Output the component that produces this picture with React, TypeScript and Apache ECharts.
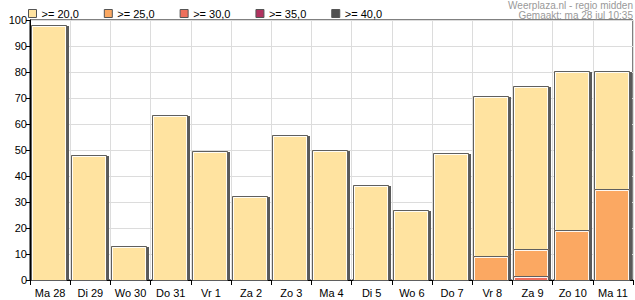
import React, { useEffect, useRef } from "react";
import * as echarts from "echarts";

const categories = ["Ma 28", "Di 29", "Wo 30", "Do 31", "Vr 1", "Za 2", "Zo 3", "Ma 4", "Di 5", "Wo 6", "Do 7", "Vr 8", "Za 9", "Zo 10", "Ma 11"];
const seriesNames = [">= 20,0", ">= 25,0", ">= 30,0", ">= 35,0", ">= 40,0"];
const seriesColors = ["#FFE3A0", "#FBA862", "#EE6F5C", "#B0325F", "#505050"];
const p20 = [98, 48, 13.2, 63.5, 49.8, 32.5, 55.7, 49.9, 36.4, 26.9, 48.7, 70.8, 74.6, 80.4, 80.4];
const p25 = [0, 0, 0, 0, 0, 0, 0, 0, 0, 0, 0, 9.3, 11.8, 19.4, 35.1];
const p30 = [0, 0, 0, 0, 0, 0, 0, 0, 0, 0, 0, 0, 1.7, 0, 0];
const p35 = [0, 0, 0, 0, 0, 0, 0, 0, 0, 0, 0, 0, 0, 0, 0];
const p40 = [0, 0, 0, 0, 0, 0, 0, 0, 0, 0, 0, 0, 0, 0, 0];
const yTicks = { min: 0, max: 100, interval: 10 };
const sourceText = "Weerplaza.nl - regio midden";
const madeText = "Gemaakt: ma 28 jul 10:35";

export default function App() {
  const ref = useRef<HTMLDivElement>(null);
  useEffect(() => {
    if (!ref.current) return;
    const chart = echarts.init(ref.current, undefined, { renderer: "svg" });
    const all = [p20, p25, p30, p35, p40];
    const font = "'Liberation Sans', Arial, sans-serif";
    const makeRender = (color: string) => (params: any, api: any) => {
      const idx = api.value(0);
      const val = api.value(1);
      const top = api.coord([idx, val]);
      const base = api.coord([idx, 0]);
      const cw = api.size([1, 0])[0];
      const w = Math.round(cw * 0.94);
      const x = Math.round(top[0] - cw / 2 + 1);
      const y = Math.round(top[1]);
      const yb = Math.round(base[1]);
      const h = yb - y;
      const ww = w - 2;
      return {
        type: "group",
        children: [
          { type: "rect", shape: { x: x, y: y, width: ww, height: h }, style: { fill: color } },
          { type: "rect", shape: { x: x + ww, y: y + 1, width: 2, height: h - 1 }, style: { fill: "#5a5a5a" } },
          { type: "rect", shape: { x: x + 0.5, y: y + 0.5, width: ww - 1, height: h }, style: { fill: "none", stroke: "#5f5f5f", lineWidth: 1 } },
          { type: "polyline", shape: { points: [[x + 1.5, yb], [x + 1.5, y + 1.5], [x + ww - 1.5, y + 1.5], [x + ww - 1.5, yb]] }, style: { fill: "none", stroke: "#ffffff", lineWidth: 1, opacity: 0.9 } },
        ],
      };
    };
    chart.setOption({
      animation: false,
      textStyle: { fontFamily: font },
      grid: { left: 30, right: 2, top: 20, bottom: 20, show: true, borderColor: "#000", borderWidth: 1, backgroundColor: "transparent" },
      legend: {
        left: 28,
        top: 8,
        padding: 0,
        itemWidth: 8,
        itemHeight: 8,
        itemGap: 25,
        icon: "rect",
        itemStyle: { borderColor: "#555", borderWidth: 1 },
        textStyle: { fontSize: 11, color: "#000", fontFamily: font },
        data: seriesNames,
        selectedMode: false,
      },
      graphic: [
        { type: "text", right: 2, top: 0, style: { text: sourceText, fill: "#999", font: `10px ${font}`, textAlign: "right" } },
        { type: "text", right: 2, top: 10, style: { text: madeText, fill: "#999", font: `10px ${font}`, textAlign: "right" } },
      ],
      xAxis: {
        type: "category",
        data: categories,
        axisLine: { lineStyle: { color: "#000", width: 1 } },
        axisTick: { show: true, length: 5, lineStyle: { color: "#000" } },
        axisLabel: { color: "#000", fontSize: 11, margin: 7, interval: 0 },
        splitLine: { show: true, lineStyle: { color: "#dcdcdc", width: 1 } },
      },
      yAxis: {
        type: "value",
        min: yTicks.min,
        max: yTicks.max,
        interval: yTicks.interval,
        axisLine: { show: true, lineStyle: { color: "#000", width: 1 } },
        axisTick: { show: true, length: 4, lineStyle: { color: "#000" } },
        axisLabel: { color: "#000", fontSize: 11, margin: 3 },
        splitLine: { show: true, lineStyle: { color: "#dcdcdc", width: 1 } },
      },
      series: all.map((vals, i) => ({
        type: "custom",
        name: seriesNames[i],
        renderItem: makeRender(seriesColors[i]),
        encode: { x: 0, y: 1 },
        z: 2 + i,
        itemStyle: { color: seriesColors[i], borderColor: "#555", borderWidth: 1 },
        data: vals.map((v, k) => [k, v]).filter((d) => d[1] > 0),
      })),
    });
    return () => chart.dispose();
  }, []);
  return <div ref={ref} style={{ width: 635, height: 300, position: "absolute", left: 0, top: 0 }} />;
}
